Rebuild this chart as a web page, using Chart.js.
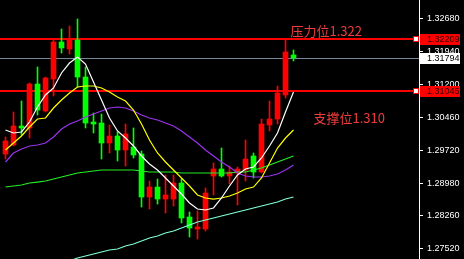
<!DOCTYPE html>
<html>
<head>
<meta charset="utf-8">
<script src="https://cdn.jsdelivr.net/npm/chart.js@4.4.0/dist/chart.umd.min.js"></script>
<style>
  html, body { margin: 0; padding: 0; background: #000; }
  canvas { display: block; }
</style>
</head>
<body>
<canvas id="price-chart" width="464" height="259"></canvas>
<script>
// candle data (oldest first)
const openPrices = [
  1.29636, 1.29838, 1.30264, 1.30220, 1.31206, 1.30601, 1.31318, 1.32148, 1.31991, 1.32193,
  1.31363, 1.30354, 1.30332, 1.29883, 1.30040, 1.29726, 1.29793, 1.29636, 1.28672, 1.28896,
  1.28627, 1.28627, 1.28986, 1.28224, 1.27955, 1.27955, 1.29143, 1.29300, 1.29143, 1.29210,
  1.29278, 1.29592, 1.29233, 1.30287, 1.30421, 1.30960, 1.31857,
];
const highPrices = [
  1.30018, 1.30578, 1.30825, 1.31229, 1.31588, 1.31363, 1.32193, 1.32440, 1.32507, 1.32664,
  1.31588, 1.30556, 1.30533, 1.30287, 1.30130, 1.30309, 1.30220, 1.29704, 1.29031, 1.29076,
  1.29165, 1.29165, 1.29076, 1.28336, 1.28358, 1.28874, 1.29435, 1.29771, 1.29367, 1.29345,
  1.29950, 1.29659, 1.30421, 1.30825, 1.31161, 1.32209, 1.31969,
];
const lowPrices = [
  1.29524, 1.29816, 1.30063, 1.29995, 1.30511, 1.30578, 1.30937, 1.31901, 1.31879, 1.31139,
  1.30220, 1.30107, 1.29524, 1.29659, 1.29479, 1.29367, 1.29547, 1.28448, 1.28403, 1.28515,
  1.28313, 1.28470, 1.28089, 1.27775, 1.27730, 1.27910, 1.28717, 1.29121, 1.28964, 1.28493,
  1.29031, 1.29098, 1.29210, 1.30152, 1.30309, 1.30892, 1.31722,
];
const closePrices = [
  1.29928, 1.30264, 1.30220, 1.31206, 1.30623, 1.31341, 1.32148, 1.32014, 1.32193, 1.31363,
  1.30332, 1.30309, 1.29883, 1.30040, 1.29726, 1.30085, 1.29614, 1.28672, 1.28896, 1.28627,
  1.28717, 1.28986, 1.28201, 1.27977, 1.28000, 1.28762, 1.29300, 1.29143, 1.29233, 1.29300,
  1.29524, 1.29233, 1.30309, 1.30421, 1.31004, 1.31924, 1.31794,
];

// moving average lines, also
const maWhite = [
  1.30175, 1.30108, 1.30130, 1.30354, 1.30690, 1.30960, 1.31117, 1.31453, 1.31677, 1.31812,
  1.31655, 1.31251, 1.30847, 1.30444, 1.30153, 1.29995, 1.29816, 1.29592, 1.29412, 1.29278,
  1.29098, 1.28919, 1.28739, 1.28538, 1.28403, 1.28381, 1.28426, 1.28650, 1.28919, 1.29166,
  1.29300, 1.29345, 1.29547, 1.29816, 1.30108, 1.30578, 1.31027,
];
const maYellow = [
  1.29726, 1.29883, 1.30040, 1.30242, 1.30421, 1.30444, 1.30668, 1.30847, 1.31004, 1.31139,
  1.31161, 1.31161, 1.31117, 1.31027, 1.30915, 1.30825, 1.30623, 1.30309, 1.29950, 1.29659,
  1.29457, 1.29278, 1.29098, 1.28919, 1.28717, 1.28650, 1.28627, 1.28650, 1.28695, 1.28762,
  1.28852, 1.28896, 1.29098, 1.29435, 1.29771, 1.29995, 1.30175,
];
const maPurple = [
  1.29457, 1.29659, 1.29749, 1.29816, 1.29838, 1.29883, 1.30018, 1.30197, 1.30309, 1.30377,
  1.30466, 1.30533, 1.30601, 1.30668, 1.30690, 1.30668, 1.30601, 1.30511, 1.30444, 1.30399,
  1.30332, 1.30265, 1.30153, 1.30018, 1.29883, 1.29726, 1.29592, 1.29457, 1.29345, 1.29210,
  1.29143, 1.29121, 1.29121, 1.29143, 1.29188, 1.29278, 1.29390,
];
const maGreen = [
  1.28896, 1.28919, 1.28941, 1.28986, 1.29008, 1.29031, 1.29076, 1.29121, 1.29166, 1.29210,
  1.29233, 1.29255, 1.29278, 1.29278, 1.29278, 1.29278, 1.29278, 1.29255, 1.29233, 1.29233,
  1.29233, 1.29233, 1.29210, 1.29210, 1.29210, 1.29210, 1.29210, 1.29210, 1.29210, 1.29233,
  1.29233, 1.29278, 1.29323, 1.29390, 1.29457, 1.29524, 1.29592,
];
const maAqua = [
  null, null, null, null, null, null, null, null, 1.27237, 1.27304,
  1.27349, 1.27394, 1.27439, 1.27484, 1.27506, 1.27573, 1.27618, 1.27685, 1.27753, 1.27797,
  1.27865, 1.27910, 1.27977, 1.28044, 1.28111, 1.28156, 1.28201, 1.28246, 1.28291, 1.28336,
  1.28381, 1.28426, 1.28470, 1.28515, 1.28560, 1.28627, 1.28672,
];

const priceTicks = [1.3268, 1.3194, 1.312, 1.3046, 1.2972, 1.2898, 1.2826, 1.2752];
const resistance = 1.32209;
const support = 1.31045;
const lastPrice = 1.31794;
const resistanceText = "压力位1.322";
const supportText = "支撑位1.310";

const UP = "#ff0000";
const DOWN = "#00ff00";
const axisFont = '9px "Liberation Sans"';

const candleIndex = openPrices.map((_, i) => i);
const candleColors = candleIndex.map((i) =>
  closePrices[i] >= openPrices[i] ? UP : DOWN
);

const lineSet = (values, color) => ({
  type: "line",
  data: candleIndex.map((i) => ({ x: i, y: values[i] })),
  borderColor: color,
  borderWidth: 1.2,
  pointRadius: 0,
  tension: 0,
  order: 0,
});

// horizontal levels, their texts and the price boxes on the axis
const levelsPlugin = {
  id: "levels",
  beforeDatasetsDraw(chart) {
    const { ctx, chartArea, scales } = chart;
    const y = scales.y;
    const x = scales.x;
    ctx.save();
    const yl = Math.round(y.getPixelForValue(lastPrice)) + 0.5;
    ctx.strokeStyle = "#778899";
    ctx.lineWidth = 1;
    ctx.beginPath();
    ctx.moveTo(chartArea.left, yl);
    ctx.lineTo(chartArea.right, yl);
    ctx.stroke();

    ctx.fillStyle = "#ff0000";
    [resistance, support].forEach((v) => {
      const yy = Math.round(y.getPixelForValue(v));
      ctx.fillRect(chartArea.left, yy - 1, chartArea.right - chartArea.left, 2);
    });

    const lastX = x.getPixelForValue(openPrices.length - 1);
    ctx.font = '13px "Noto Sans CJK SC"';
    ctx.fillStyle = "#f03c3c";
    ctx.textBaseline = "middle";
    ctx.fillText(resistanceText, lastX - 3, y.getPixelForValue(resistance) - 8);
    ctx.fillText(supportText, lastX + 20, y.getPixelForValue(support) + 27);
    ctx.restore();
  },
  afterDraw(chart) {
    const { ctx, chartArea, scales } = chart;
    const y = scales.y;
    ctx.save();
    const box = (v, bg, fg) => {
      const yy = Math.round(y.getPixelForValue(v));
      ctx.fillStyle = bg;
      ctx.fillRect(chartArea.right + 1, yy - 5, 40, 11);
      ctx.fillStyle = fg;
      ctx.font = axisFont;
      ctx.textBaseline = "middle";
      ctx.fillText(v.toFixed(5), chartArea.right + 8, yy + 0.5);
    };
    box(resistance, "#ff0000", "#300000");
    box(support, "#ff0000", "#300000");
    box(lastPrice, "#ffffff", "#000000");

    // little handles at the right end of the red lines
    [resistance, support].forEach((v) => {
      const yy = Math.round(y.getPixelForValue(v));
      ctx.fillStyle = "#ff0000";
      ctx.fillRect(chartArea.right - 6, yy - 3, 6, 6);
      ctx.fillStyle = "#ffffff";
      ctx.fillRect(chartArea.right - 5, yy - 2, 4, 4);
    });
    ctx.restore();
  },
};

new Chart(document.getElementById("price-chart"), {
  type: "bar",
  data: {
    datasets: [
      lineSet(maWhite, "#ffffff"),
      lineSet(maYellow, "#ffff00"),
      lineSet(maPurple, "#9933ee"),
      lineSet(maGreen, "#22ee22"),
      lineSet(maAqua, "#7fffd4"),
      {
        // candle bodies
        data: candleIndex.map((i) => ({ x: i, y: [openPrices[i], closePrices[i]] })),
        backgroundColor: candleColors,
        barThickness: 5,
        grouped: false,
        order: 1,
      },
      {
        // wicks
        data: candleIndex.map((i) => ({ x: i, y: [lowPrices[i], highPrices[i]] })),
        backgroundColor: candleColors,
        barThickness: 1,
        grouped: false,
        order: 2,
      },
    ],
  },
  options: {
    responsive: false,
    animation: false,
    devicePixelRatio: 1,
    layout: { padding: 0 },
    scales: {
      x: {
        type: "linear",
        display: false,
        offset: false,
        min: -0.6875,
        max: 51.6875,
      },
      y: {
        position: "right",
        min: 1.27282,
        max: 1.3309,
        beginAtZero: false,
        grid: {
          display: true,
          drawOnChartArea: false,
          drawTicks: true,
          tickLength: 4,
          color: "#ffffff",
        },
        border: { display: true, color: "#ffffff", width: 1 },
        ticks: {
          color: "#ffffff",
          font: { family: "Liberation Sans", size: 9 },
          padding: 4,
          callback: (v) => Number(v).toFixed(5),
        },
        afterBuildTicks: (scale) => {
          scale.ticks = priceTicks.map((v) => ({ value: v }));
        },
        afterFit: (scale) => {
          scale.width = 45;
          scale.paddingTop = 0;
          scale.paddingBottom = 0;
        },
      },
    },
    plugins: {
      legend: { display: false },
      tooltip: { enabled: false },
    },
  },
  plugins: [levelsPlugin],
});
</script>
</body>
</html>
